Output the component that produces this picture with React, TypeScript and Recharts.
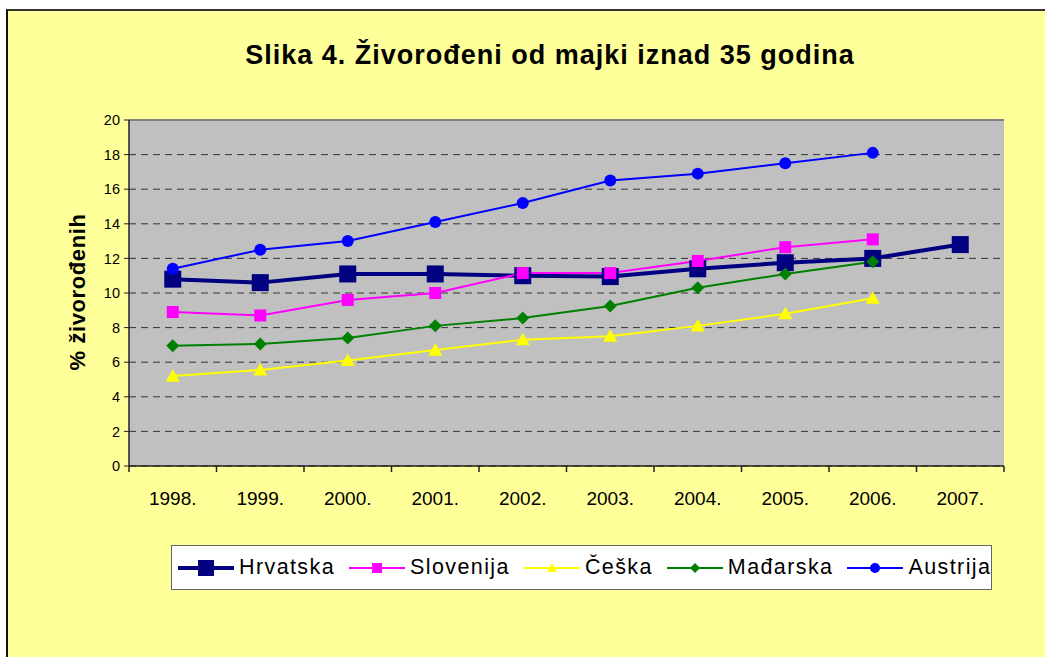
import { CartesianGrid, Line, LineChart, ReferenceLine, XAxis, YAxis } from 'recharts'

const YEARS = ['1998.', '1999.', '2000.', '2001.', '2002.', '2003.', '2004.', '2005.', '2006.', '2007.']
const HRVATSKA = [10.8, 10.6, 11.1, 11.1, 11.0, 10.95, 11.4, 11.75, 12.0, 12.8]
const SLOVENIJA = [8.9, 8.7, 9.6, 10.0, 11.15, 11.15, 11.85, 12.65, 13.1, null]
const CESKA = [5.2, 5.55, 6.1, 6.7, 7.3, 7.5, 8.1, 8.8, 9.7, null]
const MADARSKA = [6.95, 7.05, 7.4, 8.1, 8.55, 9.25, 10.3, 11.1, 11.8, null]
const AUSTRIJA = [11.4, 12.5, 13.0, 14.1, 15.2, 16.5, 16.9, 17.5, 18.1, null]
const Y_TICKS = [0, 2, 4, 6, 8, 10, 12, 14, 16, 18, 20]

const W = 1045
const H = 657
const X_AXIS_H = 30
const MARGIN = { top: 120, right: 41, bottom: 191 - X_AXIS_H, left: 0 }
const Y_AXIS_W = 129
const PLOT_W = W - MARGIN.right - MARGIN.left - Y_AXIS_W
const BAND = PLOT_W / YEARS.length
const FONT = '"Liberation Sans", Arial, sans-serif'

type Shape = 'square' | 'triangle' | 'diamond' | 'circle'

const SERIES: { key: string; name: string; color: string; width: number; shape: Shape; size: number }[] = [
  { key: 'hr', name: 'Hrvatska', color: '#000080', width: 4, shape: 'square', size: 17 },
  { key: 'si', name: 'Slovenija', color: '#FF00FF', width: 2, shape: 'square', size: 12 },
  { key: 'cz', name: 'Češka', color: '#FFFF00', width: 2, shape: 'triangle', size: 14 },
  { key: 'hu', name: 'Mađarska', color: '#008000', width: 2, shape: 'diamond', size: 13 },
  { key: 'at', name: 'Austrija', color: '#0000FF', width: 2, shape: 'circle', size: 12 },
]

const data = YEARS.map((year, i) => ({
  year,
  hr: HRVATSKA[i],
  si: SLOVENIJA[i],
  cz: CESKA[i],
  hu: MADARSKA[i],
  at: AUSTRIJA[i],
}))

function Marker({ shape, color, size, cx, cy }: { shape: Shape; color: string; size: number; cx: number; cy: number }) {
  const h = size / 2
  if (shape === 'square') return <rect x={cx - h} y={cy - h} width={size} height={size} fill={color} />
  if (shape === 'circle') return <circle cx={cx} cy={cy} r={h} fill={color} />
  if (shape === 'diamond')
    return <polygon points={`${cx},${cy - h} ${cx + h},${cy} ${cx},${cy + h} ${cx - h},${cy}`} fill={color} />
  return <polygon points={`${cx},${cy - h} ${cx + h},${cy + h * 0.8} ${cx - h},${cy + h * 0.8}`} fill={color} />
}

function YearTick({ x, y, payload, index }: any) {
  const half = BAND / 2
  return (
    <g>
      <line x1={x - half} y1={y - 6} x2={x - half} y2={y} stroke="#222" strokeWidth={1.5} />
      {index === YEARS.length - 1 && (
        <line x1={x + half} y1={y - 6} x2={x + half} y2={y} stroke="#222" strokeWidth={1.5} />
      )}
      <text x={x} y={y + 33} textAnchor="middle" fontSize={19} fontFamily={FONT} fill="#000">
        {payload.value}
      </text>
    </g>
  )
}

function Legend() {
  return (
    <div
      style={{
        position: 'absolute',
        left: 171,
        top: 545,
        width: 821,
        height: 45,
        boxSizing: 'border-box',
        border: '1px solid #666',
        background: '#fff',
        display: 'flex',
        alignItems: 'center',
        paddingLeft: 6,
        fontFamily: FONT,
        fontSize: 21.5,
        letterSpacing: 1.4,
        whiteSpace: 'nowrap',
      }}
    >
      {SERIES.map((s) => (
        <div key={s.key} style={{ display: 'flex', alignItems: 'center', marginRight: 14 }}>
          <svg width={56} height={20} style={{ marginRight: 5 }}>
            <line x1={0} y1={10} x2={56} y2={10} stroke={s.color} strokeWidth={s.width} />
            <Marker shape={s.shape} color={s.color} size={s.key === 'hr' ? 16 : 10} cx={28} cy={10} />
          </svg>
          <span>{s.name}</span>
        </div>
      ))}
    </div>
  )
}

export default function App() {
  return (
    <div style={{ position: 'absolute', left: 0, top: 0, width: W, height: H, background: '#fff', overflow: 'hidden' }}>
      <div
        style={{
          position: 'absolute',
          left: 6,
          top: 9,
          width: W - 6,
          height: H - 9,
          boxSizing: 'border-box',
          background: '#FFFF99',
          borderTop: '2px solid #333',
          borderLeft: '2px solid #111',
        }}
      />
      <div
        style={{
          position: 'absolute',
          left: 50,
          width: 1000,
          top: 38,
          lineHeight: '34px',
          textAlign: 'center',
          fontFamily: FONT,
          fontWeight: 'bold',
          fontSize: 27,
          letterSpacing: 1,
        }}
      >
        Slika 4. Živorođeni od majki iznad 35 godina
      </div>
      <div
        style={{
          position: 'absolute',
          left: 78,
          top: 292,
          transform: 'translate(-50%, -50%) rotate(-90deg)',
          whiteSpace: 'nowrap',
          fontFamily: FONT,
          fontWeight: 'bold',
          fontSize: 22,
          letterSpacing: 0.6,
        }}
      >
        % živorođenih
      </div>
      <div style={{ position: 'absolute', left: 0, top: 0 }}>
        <LineChart width={W} height={H} data={data} margin={MARGIN}>
          <CartesianGrid
            vertical={false}
            fill="#C0C0C0"
            stroke="#333"
            strokeDasharray="7 5"
            horizontalValues={Y_TICKS}
          />
          <ReferenceLine y={20} stroke="#808080" strokeWidth={2} />
          <XAxis
            dataKey="year"
            scale="band"
            height={X_AXIS_H}
            axisLine={{ stroke: '#222', strokeWidth: 1.5 }}
            tickLine={false}
            tickSize={6}
            tickMargin={0}
            tick={<YearTick />}
            interval={0}
          />
          <YAxis
            domain={[0, 20]}
            ticks={Y_TICKS}
            width={Y_AXIS_W}
            axisLine={{ stroke: '#222', strokeWidth: 1.5 }}
            tickLine={{ stroke: '#222' }}
            tickSize={5}
            tickMargin={4}
            tick={{ fontSize: 14.5, fontFamily: FONT, fill: '#000' }}
          />
          <YAxis
            yAxisId="right"
            orientation="right"
            domain={[0, 20]}
            width={0}
            tick={false}
            tickLine={false}
            axisLine={{ stroke: '#808080', strokeWidth: 2 }}
          />
          {SERIES.map((s) => (
            <Line
              key={s.key}
              dataKey={s.key}
              name={s.name}
              stroke={s.color}
              strokeWidth={s.width}
              isAnimationActive={false}
              activeDot={false}
              dot={(p: any) =>
                p.cy == null ? (
                  <g key={`${s.key}-${p.index}`} />
                ) : (
                  <Marker key={`${s.key}-${p.index}`} shape={s.shape} color={s.color} size={s.size} cx={p.cx} cy={p.cy} />
                )
              }
            />
          ))}
        </LineChart>
      </div>
      <Legend />
    </div>
  )
}
